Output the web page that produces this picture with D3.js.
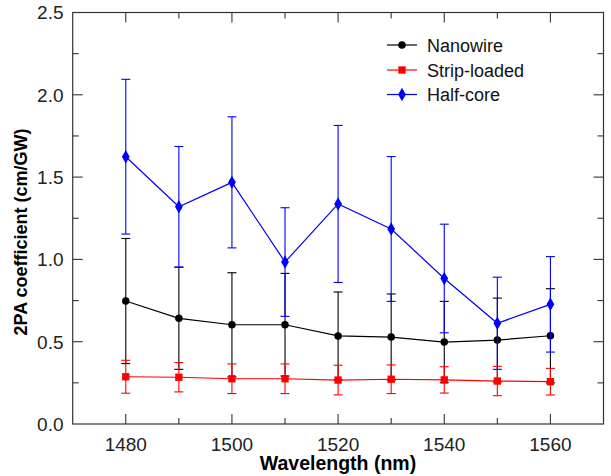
<!DOCTYPE html>
<html>
<head>
<meta charset="utf-8">
<script src="https://cdn.jsdelivr.net/npm/d3@7"></script>
<style>
  body { margin: 0; background: #fff; }
  svg { font-family: "Liberation Sans", Arial, sans-serif; }
</style>
</head>
<body>
<svg id="chart" width="611" height="476"></svg>
<script>
// values
const wavelength = [1480, 1490, 1500, 1510, 1520, 1530, 1540, 1550, 1560];
const nanowire = [0.747, 0.642, 0.603, 0.603, 0.535, 0.528, 0.498, 0.51, 0.536];
const nanowireErr = [0.38, 0.31, 0.316, 0.312, 0.267, 0.262, 0.247, 0.255, 0.286];
const stripLoaded = [0.287, 0.284, 0.275, 0.275, 0.267, 0.272, 0.268, 0.261, 0.257];
const stripLoadedErr = [0.1, 0.089, 0.09, 0.09, 0.09, 0.087, 0.08, 0.089, 0.081];
const halfCore = [1.624, 1.32, 1.468, 0.984, 1.337, 1.185, 0.884, 0.612, 0.727];
const halfCoreErr = [0.47, 0.366, 0.398, 0.33, 0.477, 0.44, 0.33, 0.28, 0.29];
const seriesNames = ["Nanowire", "Strip-loaded", "Half-core"];
const xTicks = [1480, 1500, 1520, 1540, 1560];
const yTicks = [0, 0.5, 1.0, 1.5, 2.0, 2.5];

const series = [
  { name: seriesNames[0], values: nanowire, err: nanowireErr, color: "#000000", symbol: d3.symbolCircle, size: 44 },
  { name: seriesNames[1], values: stripLoaded, err: stripLoadedErr, color: "#ff0000", symbol: d3.symbolSquare, size: 54 },
  { name: seriesNames[2], values: halfCore, err: halfCoreErr, color: "#0000ff", symbol: d3.symbolDiamond, size: 52 }
];

const svg = d3.select("#chart");
const plotLeft = 72.7, plotRight = 603.5, plotTop = 12.5, plotBottom = 424;

const x = d3.scaleLinear().domain([1470, 1570]).range([plotLeft, plotRight]);
const y = d3.scaleLinear().domain([0, 2.5]).range([plotBottom, plotTop]);

const axisColor = "#333";

// frame
svg.append("rect")
  .attr("x", plotLeft).attr("y", plotTop)
  .attr("width", plotRight - plotLeft).attr("height", plotBottom - plotTop)
  .attr("fill", "none").attr("stroke", axisColor).attr("stroke-width", 1.2);

// ticks pointing in, on all four sides
const xMinor = d3.range(1480, 1561, 10);
const yMinor = d3.range(0.25, 2.5, 0.25);
function xTick(v, isMajor) {
  const len = isMajor ? 10 : 6;
  svg.append("line").attr("x1", x(v)).attr("x2", x(v)).attr("y1", plotBottom).attr("y2", plotBottom - len)
    .attr("stroke", axisColor).attr("stroke-width", 1.1);
  svg.append("line").attr("x1", x(v)).attr("x2", x(v)).attr("y1", plotTop).attr("y2", plotTop + len)
    .attr("stroke", axisColor).attr("stroke-width", 1.1);
}
function yTick(v, isMajor) {
  const len = isMajor ? 10 : 6;
  svg.append("line").attr("y1", y(v)).attr("y2", y(v)).attr("x1", plotLeft).attr("x2", plotLeft + len)
    .attr("stroke", axisColor).attr("stroke-width", 1.1);
  svg.append("line").attr("y1", y(v)).attr("y2", y(v)).attr("x1", plotRight).attr("x2", plotRight - len)
    .attr("stroke", axisColor).attr("stroke-width", 1.1);
}
xMinor.forEach(v => xTick(v, xTicks.includes(v)));
yMinor.forEach(v => yTick(v, Math.abs(v * 2 - Math.round(v * 2)) < 1e-6));

// tick labels
svg.selectAll(".x-label").data(xTicks).join("text")
  .attr("class", "x-label")
  .attr("x", d => x(d)).attr("y", 451)
  .attr("text-anchor", "middle")
  .attr("font-size", 19).attr("fill", "#222")
  .text(d => d);

svg.selectAll(".y-label").data(yTicks).join("text")
  .attr("class", "y-label")
  .attr("x", 63.5).attr("y", d => y(d) + 6.8)
  .attr("text-anchor", "end")
  .attr("font-size", 19).attr("fill", "#222")
  .text(d => d3.format(".1f")(d));

// axis titles
svg.append("text")
  .attr("x", 338).attr("y", 470)
  .attr("text-anchor", "middle")
  .attr("font-size", 19.5).attr("font-weight", "bold")
  .text("Wavelength (nm)");

svg.append("text")
  .attr("transform", "translate(27,232) rotate(-90)")
  .attr("text-anchor", "middle")
  .attr("font-size", 18).attr("font-weight", "bold")
  .text("2PA coefficient (cm/GW)");

// series: error bars, line, markers
const line = d3.line().x(d => x(d.w)).y(d => y(d.v));
const capHalf = 4.5;

series.forEach(s => {
  const pts = wavelength.map((w, i) => ({ w, v: s.values[i], e: s.err[i] }));
  const g = svg.append("g");

  const eb = g.selectAll(".err").data(pts).join("g").attr("class", "err")
    .attr("stroke", s.color).attr("stroke-width", 1.1);
  eb.append("line")
    .attr("x1", d => x(d.w)).attr("x2", d => x(d.w))
    .attr("y1", d => y(d.v - d.e)).attr("y2", d => y(d.v + d.e));
  eb.append("line")
    .attr("x1", d => x(d.w) - capHalf).attr("x2", d => x(d.w) + capHalf)
    .attr("y1", d => y(d.v + d.e)).attr("y2", d => y(d.v + d.e));
  eb.append("line")
    .attr("x1", d => x(d.w) - capHalf).attr("x2", d => x(d.w) + capHalf)
    .attr("y1", d => y(d.v - d.e)).attr("y2", d => y(d.v - d.e));

  g.append("path").datum(pts)
    .attr("d", line)
    .attr("fill", "none").attr("stroke", s.color).attr("stroke-width", 1.2);

  g.selectAll(".mark").data(pts).join("path").attr("class", "mark")
    .attr("transform", d => `translate(${x(d.w)},${y(d.v)})`)
    .attr("d", d3.symbol().type(s.symbol).size(s.size))
    .attr("fill", s.color);
});

// legend
const legendY = [45, 70, 94.5];
const lg = svg.append("g");
series.forEach((s, i) => {
  const ly = legendY[i];
  lg.append("line").attr("x1", 387).attr("x2", 417).attr("y1", ly).attr("y2", ly)
    .attr("stroke", s.color).attr("stroke-width", 1.2);
  lg.append("path").attr("transform", `translate(402,${ly})`)
    .attr("d", d3.symbol().type(s.symbol).size(s.size)).attr("fill", s.color);
  lg.append("text").attr("x", 427).attr("y", ly + 6.5)
    .attr("font-size", 18).attr("fill", "#111")
    .text(s.name);
});
</script>
</body>
</html>
